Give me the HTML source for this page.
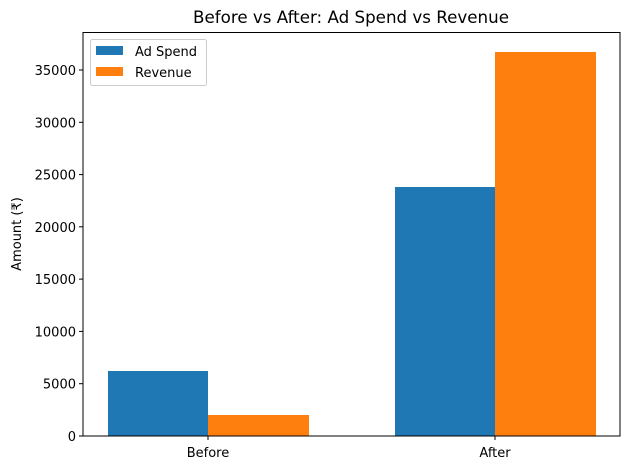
<!DOCTYPE html><html><head><style>body{margin:0;background:#fff}svg{display:block;font-family:"DejaVu Sans","Liberation Sans",sans-serif}</style></head><body>
<svg width="629" height="470" viewBox="0 0 629 470">
<rect x="108" y="371" width="100" height="65" fill="#1f77b4"/>
<rect x="208" y="415" width="101" height="21" fill="#ff7f0e"/>
<rect x="395" y="187" width="100" height="249" fill="#1f77b4"/>
<rect x="495" y="52" width="101" height="384" fill="#ff7f0e"/>
<rect x="83" y="32.5" width="537" height="403.5" fill="none" stroke="#000" stroke-width="1"/>
<g stroke="#000" stroke-width="1">
<line x1="79" x2="83" y1="436" y2="436"/><line x1="79" x2="83" y1="383.7" y2="383.7"/><line x1="79" x2="83" y1="331.4" y2="331.4"/><line x1="79" x2="83" y1="279.1" y2="279.1"/><line x1="79" x2="83" y1="226.8" y2="226.8"/><line x1="79" x2="83" y1="174.6" y2="174.6"/><line x1="79" x2="83" y1="122.3" y2="122.3"/><line x1="79" x2="83" y1="70" y2="70"/>
<line x1="208" x2="208" y1="436" y2="440"/><line x1="495" x2="495" y1="436" y2="440"/>
</g>
<g font-size="13" text-anchor="end" fill="#000">
<text x="76" y="441">0</text><text x="76" y="388.7">5000</text><text x="76" y="336.4">10000</text><text x="76" y="284.1">15000</text><text x="76" y="231.8">20000</text><text x="76" y="179.6">25000</text><text x="76" y="127.3">30000</text><text x="76" y="75">35000</text>
</g>
<g font-size="13" text-anchor="middle"><text x="208" y="457">Before</text><text x="495" y="457">After</text></g>
<text x="21" y="234" font-size="13" text-anchor="middle" transform="rotate(-90 21 234)">Amount (₹)</text>
<text x="351" y="23" font-size="16.7" text-anchor="middle">Before vs After: Ad Spend vs Revenue</text>
<rect x="90.5" y="39.5" width="116" height="46" rx="2" fill="#fff" stroke="#ccc"/>
<rect x="96" y="46" width="27" height="9" fill="#1f77b4"/>
<rect x="96" y="67" width="27" height="9" fill="#ff7f0e"/>
<text x="135" y="56" font-size="13">Ad Spend</text>
<text x="135" y="77" font-size="13">Revenue</text>
</svg></body></html>
